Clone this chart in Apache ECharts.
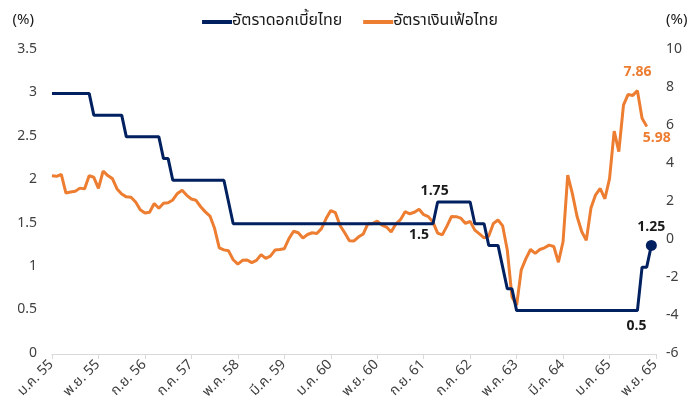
<!DOCTYPE html>
<html>
<head>
<meta charset="utf-8">
<script src="https://cdn.jsdelivr.net/npm/echarts@6/dist/echarts.min.js"></script>
<style>
  html, body { margin: 0; padding: 0; background: #fff; }
  #chart { width: 700px; height: 417px; }
</style>
</head>
<body>
<div id="chart"></div>
<script>
// เดือน / ปี สำหรับแกน x (ม.ค. 55 - พ.ย. 65)
var months = ['ม.ค.', 'ก.พ.', 'มี.ค.', 'เม.ย.', 'พ.ค.', 'มิ.ย.', 'ก.ค.', 'ส.ค.', 'ก.ย.', 'ต.ค.', 'พ.ย.', 'ธ.ค.'];
var years = ['55', '56', '57', '58', '59', '60', '61', '62', '63', '64', '65'];
var lastMonth = 10; // พ.ย. 65

// อัตราดอกเบี้ยนโยบาย (%), แกนซ้าย
var policyRate = [
  3.0, 3.0, 3.0, 3.0, 3.0, 3.0, 3.0, 3.0, 3.0, 2.75, 2.75, 2.75,
  2.75, 2.75, 2.75, 2.75, 2.5, 2.5, 2.5, 2.5, 2.5, 2.5, 2.5, 2.5,
  2.25, 2.25, 2.0, 2.0, 2.0, 2.0, 2.0, 2.0, 2.0, 2.0, 2.0, 2.0,
  2.0, 2.0, 1.75, 1.5, 1.5, 1.5, 1.5, 1.5, 1.5, 1.5, 1.5, 1.5,
  1.5, 1.5, 1.5, 1.5, 1.5, 1.5, 1.5, 1.5, 1.5, 1.5, 1.5, 1.5,
  1.5, 1.5, 1.5, 1.5, 1.5, 1.5, 1.5, 1.5, 1.5, 1.5, 1.5, 1.5,
  1.5, 1.5, 1.5, 1.5, 1.5, 1.5, 1.5, 1.5, 1.5, 1.5, 1.5, 1.75,
  1.75, 1.75, 1.75, 1.75, 1.75, 1.75, 1.75, 1.5, 1.5, 1.5, 1.25, 1.25,
  1.25, 1.0, 0.75, 0.75, 0.5, 0.5, 0.5, 0.5, 0.5, 0.5, 0.5, 0.5,
  0.5, 0.5, 0.5, 0.5, 0.5, 0.5, 0.5, 0.5, 0.5, 0.5, 0.5, 0.5,
  0.5, 0.5, 0.5, 0.5, 0.5, 0.5, 0.5, 1.0, 1.0, 1.25
];

// อัตราเงินเฟ้อ (%), แกนขวา
var inflation = [
  3.38, 3.35, 3.45, 2.47, 2.53, 2.56, 2.73, 2.69, 3.38, 3.30, 2.72, 3.63,
  3.39, 3.23, 2.69, 2.42, 2.27, 2.25, 2.0, 1.59, 1.42, 1.46, 1.92, 1.67,
  1.93, 1.96, 2.11, 2.45, 2.62, 2.35, 2.16, 2.09, 1.75, 1.48, 1.26, 0.60,
  -0.41, -0.52, -0.57, -1.04, -1.27, -1.07, -1.05, -1.19, -1.07, -0.77, -0.97, -0.85,
  -0.53, -0.50, -0.46, 0.07, 0.46, 0.38, 0.10, 0.29, 0.38, 0.34, 0.60, 1.13,
  1.55, 1.44, 0.76, 0.38, -0.04, -0.05, 0.17, 0.32, 0.86, 0.86, 0.99, 0.78,
  0.68, 0.42, 0.84, 1.07, 1.49, 1.38, 1.46, 1.62, 1.33, 1.23, 0.94, 0.36,
  0.27, 0.73, 1.24, 1.23, 1.15, 0.87, 0.98, 0.52, 0.32, 0.11, 0.21, 0.87,
  1.05, 0.74, -0.54, -2.99, -3.44, -1.57, -0.98, -0.50, -0.70, -0.50, -0.41, -0.27,
  -0.34, -1.17, -0.08, 3.41, 2.44, 1.25, 0.45, -0.02, 1.68, 2.38, 2.71, 2.17,
  3.23, 5.73, 4.65, 7.10, 7.66, 7.61, 7.86, 6.41, 5.98
];

// จุดที่มีป้ายกำกับ (index ในข้อมูล)
var policyMarks = [79, 83, 126, 129];
var inflationMarks = [126, 128];

var categories = [];
years.forEach(function (y, yi) {
  months.forEach(function (m, mi) {
    if (yi === years.length - 1 && mi > lastMonth) return;
    categories.push(m + ' ' + y);
  });
});

var FONT = "'Noto Sans Thai', 'Noto Sans', 'DejaVu Sans', sans-serif";
var NAVY = '#002060';
var ORANGE = '#ED7D31';

var policyLabelPos = { 79: ['bottom', [0, 0]], 83: ['top', [-3, 3]], 126: ['bottom', [-1, 4]], 129: ['top', [0, 0]] };
var policyData = policyRate.map(function (v, i) {
  if (policyMarks.indexOf(i) < 0) return v;
  var item = {
    value: v,
    symbol: 'circle',
    symbolSize: 1,
    itemStyle: { color: NAVY },
    label: {
      show: true, position: policyLabelPos[i][0], offset: policyLabelPos[i][1],
      formatter: String(v), color: '#1a1a1a', fontWeight: 'bold', fontSize: 14, fontFamily: FONT
    }
  };
  if (i === policyRate.length - 1) item.symbolSize = 11;
  return item;
});

var inflLabelPos = { 126: ['top', [0, -5]], 128: ['bottom', [10, 0]] };
var inflationData = inflation.map(function (v, i) {
  if (inflationMarks.indexOf(i) < 0) return v;
  return {
    value: v,
    symbol: 'circle',
    symbolSize: 1,
    itemStyle: { color: ORANGE },
    label: {
      show: true, position: inflLabelPos[i][0], offset: inflLabelPos[i][1],
      formatter: v.toFixed(2), color: ORANGE, fontWeight: 'bold', fontSize: 14, fontFamily: FONT
    }
  };
});

var myChart = echarts.init(document.getElementById('chart'));
myChart.setOption({
  animation: false,
  textStyle: { fontFamily: FONT },
  legend: {
    top: 9,
    left: 'center',
    itemGap: 21,
    itemWidth: 30,
    itemHeight: 4,
    icon: 'rect',
    textStyle: { fontSize: 16, color: '#1a1a1a', fontFamily: FONT, padding: [0, 0, 0, -5] },
    data: ['อัตราดอกเบี้ยไทย', 'อัตราเงินเฟ้อไทย']
  },
  grid: { left: 52, right: 44, top: 50, bottom: 63 },
  xAxis: {
    type: 'category',
    boundaryGap: false,
    data: categories,
    axisLine: { lineStyle: { color: '#d9d9d9', width: 1 } },
    axisTick: { interval: 9, length: 5, lineStyle: { color: '#d9d9d9' } },
    axisLabel: { interval: 9, rotate: 45, fontSize: 14, color: '#404040', margin: 9, fontFamily: FONT },
    splitLine: { show: false }
  },
  yAxis: [
    {
      type: 'value', min: 0, max: 3.5, interval: 0.5,
      name: '(%)', nameLocation: 'end', nameGap: 22,
      nameTextStyle: { fontSize: 15, color: '#1a1a1a', align: 'right', padding: [0, 18, 0, 0] },
      axisLine: { show: false }, axisTick: { show: false }, splitLine: { show: false },
      axisLabel: { fontSize: 14, color: '#404040', margin: 15 }
    },
    {
      type: 'value', min: -6, max: 10, interval: 2,
      name: '(%)', nameLocation: 'end', nameGap: 22,
      nameTextStyle: { fontSize: 15, color: '#1a1a1a', align: 'left', padding: [0, 0, 0, 10] },
      axisLine: { show: false }, axisTick: { show: false }, splitLine: { show: false },
      axisLabel: { fontSize: 14, color: '#404040', margin: 10 }
    }
  ],
  series: [
    {
      name: 'อัตราดอกเบี้ยไทย',
      type: 'line',
      yAxisIndex: 0,
      data: policyData,
      symbol: 'none',
      showAllSymbol: true,
      itemStyle: { color: NAVY },
      lineStyle: { color: NAVY, width: 3 },
      z: 3
    },
    {
      name: 'อัตราเงินเฟ้อไทย',
      type: 'line',
      yAxisIndex: 1,
      data: inflationData,
      symbol: 'none',
      showAllSymbol: true,
      itemStyle: { color: ORANGE },
      lineStyle: { color: ORANGE, width: 3 },
      z: 2
    }
  ]
});
</script>
</body>
</html>
